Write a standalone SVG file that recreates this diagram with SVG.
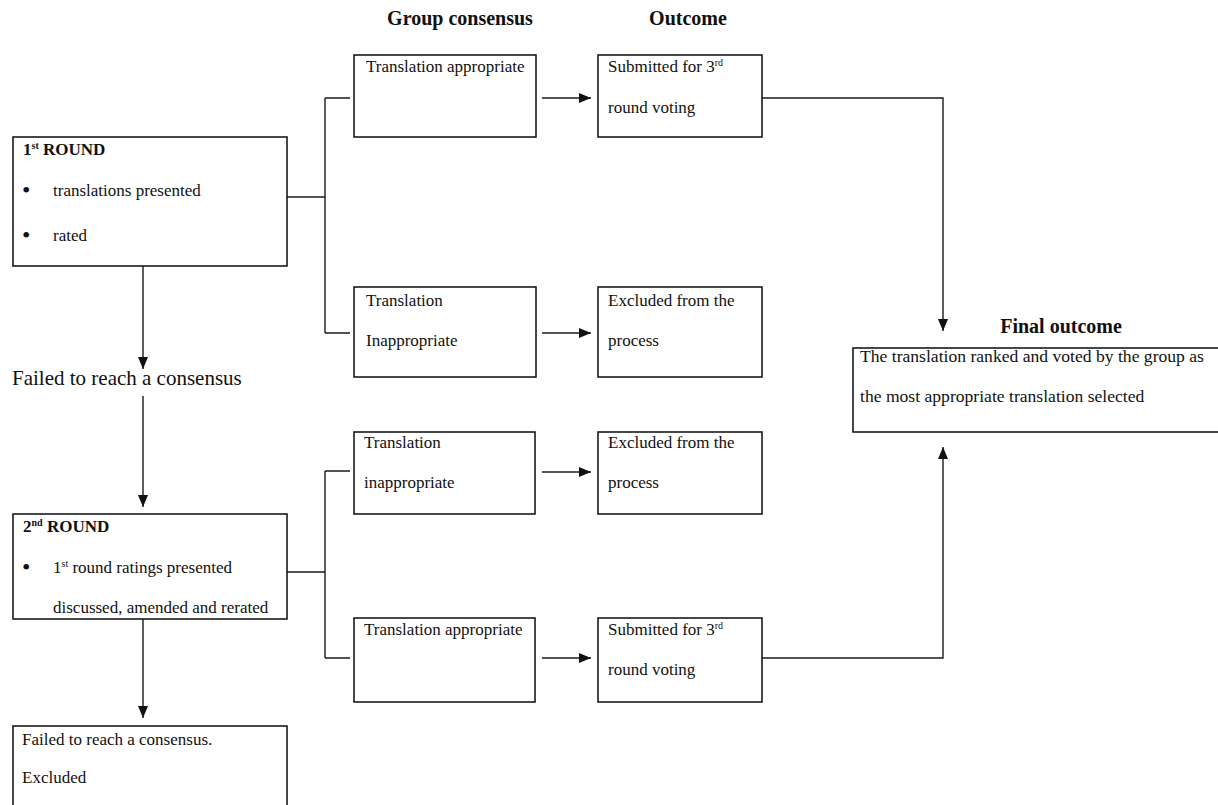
<svg xmlns="http://www.w3.org/2000/svg" width="1218" height="805" viewBox="0 0 1218 805">
<style>
  text { font-family: "Liberation Serif", "Times New Roman", serif; fill: #111; }
  .t { font-size: 17px; }
  .tl { font-size: 21px; }
  .tf { font-size: 17.6px; }
  .bul { font-size: 24px; }
  .h { font-size: 20px; font-weight: bold; }
  .hb { font-size: 17px; font-weight: bold; }
  .sup { font-size: 10px; }
  .box { fill: #fff; stroke: #1a1a1a; stroke-width: 1.6; }
  .ln { fill: none; stroke: #1a1a1a; stroke-width: 1.4; }
</style>
<defs>
  <marker id="ah" markerWidth="12" markerHeight="10" refX="12" refY="5" orient="auto" markerUnits="userSpaceOnUse">
    <path d="M0,0 L12,5 L0,10 Z" fill="#111"/>
  </marker>
</defs>
<rect width="1218" height="805" fill="#fff"/>

<g id="headers">
  <text class="h" x="460" y="25" text-anchor="middle">Group consensus</text>
  <text class="h" x="688" y="25" text-anchor="middle">Outcome</text>
  <text class="h" x="1061" y="333" text-anchor="middle">Final outcome</text>
</g>

<g id="connectors">
  <path class="ln" d="M287,197 H325 M325,98 V333 M325,98 H350 M325,333 H350"/>
  <path class="ln" d="M287,572 H325 M325,471 V658 M325,471 H350 M325,658 H350"/>
  <line class="ln" x1="542" y1="98" x2="591" y2="98" marker-end="url(#ah)"/>
  <line class="ln" x1="542" y1="333" x2="591" y2="333" marker-end="url(#ah)"/>
  <line class="ln" x1="542" y1="472" x2="591" y2="472" marker-end="url(#ah)"/>
  <line class="ln" x1="542" y1="658" x2="591" y2="658" marker-end="url(#ah)"/>
  <line class="ln" x1="143" y1="266" x2="143" y2="369" marker-end="url(#ah)"/>
  <line class="ln" x1="143" y1="396" x2="143" y2="507" marker-end="url(#ah)"/>
  <line class="ln" x1="143" y1="619" x2="143" y2="718" marker-end="url(#ah)"/>
  <path class="ln" d="M762,98 H943 V331" marker-end="url(#ah)"/>
  <path class="ln" d="M762,658 H943 V447" marker-end="url(#ah)"/>
</g>

<g id="round1">
  <rect class="box" x="13" y="137" width="274" height="129"/>
  <text class="hb" x="23" y="155">1<tspan class="sup" dy="-6">st</tspan><tspan dy="6"> ROUND</tspan></text>
  <text class="bul" x="22" y="198">•</text>
  <text class="t" x="53" y="196">translations presented</text>
  <text class="bul" x="22" y="243">•</text>
  <text class="t" x="53" y="241">rated</text>
</g>

<g id="gc1">
  <rect class="box" x="354" y="55" width="182" height="82"/>
  <text class="t" x="366" y="72">Translation appropriate</text>
</g>
<g id="oc1">
  <rect class="box" x="598" y="55" width="164" height="82"/>
  <text class="t" x="608" y="72">Submitted for 3<tspan class="sup" dy="-6">rd</tspan></text>
  <text class="t" x="608" y="113">round voting</text>
</g>
<g id="gc2">
  <rect class="box" x="354" y="287" width="182" height="90"/>
  <text class="t" x="366" y="306">Translation</text>
  <text class="t" x="366" y="346">Inappropriate</text>
</g>
<g id="oc2">
  <rect class="box" x="598" y="287" width="164" height="90"/>
  <text class="t" x="608" y="306">Excluded from the</text>
  <text class="t" x="608" y="346">process</text>
</g>

<g id="failed1">
  <text class="tl" x="12" y="385">Failed to reach a consensus</text>
</g>

<g id="round2">
  <rect class="box" x="13" y="514" width="274" height="105"/>
  <text class="hb" x="23" y="532">2<tspan class="sup" dy="-6">nd</tspan><tspan dy="6"> ROUND</tspan></text>
  <text class="bul" x="22" y="575">•</text>
  <text class="t" x="53" y="573">1<tspan class="sup" dy="-6">st</tspan><tspan dy="6"> round ratings presented</tspan></text>
  <text class="t" x="53" y="613">discussed, amended and rerated</text>
</g>

<g id="gc3">
  <rect class="box" x="354" y="432" width="181" height="82"/>
  <text class="t" x="364" y="448">Translation</text>
  <text class="t" x="364" y="488">inappropriate</text>
</g>
<g id="oc3">
  <rect class="box" x="598" y="432" width="164" height="82"/>
  <text class="t" x="608" y="448">Excluded from the</text>
  <text class="t" x="608" y="488">process</text>
</g>
<g id="gc4">
  <rect class="box" x="354" y="618" width="181" height="84"/>
  <text class="t" x="364" y="635">Translation appropriate</text>
</g>
<g id="oc4">
  <rect class="box" x="598" y="618" width="164" height="84"/>
  <text class="t" x="608" y="635">Submitted for 3<tspan class="sup" dy="-6">rd</tspan></text>
  <text class="t" x="608" y="675">round voting</text>
</g>

<g id="failed2">
  <rect class="box" x="13" y="726" width="274" height="100"/>
  <text class="t" x="22" y="745">Failed to reach a consensus.</text>
  <text class="t" x="22" y="783">Excluded</text>
</g>

<g id="final">
  <rect class="box" x="853" y="348" width="380" height="84"/>
  <text class="tf" x="860" y="362">The translation ranked and voted by the group as</text>
  <text class="tf" x="860" y="402">the most appropriate translation selected</text>
</g>
</svg>
